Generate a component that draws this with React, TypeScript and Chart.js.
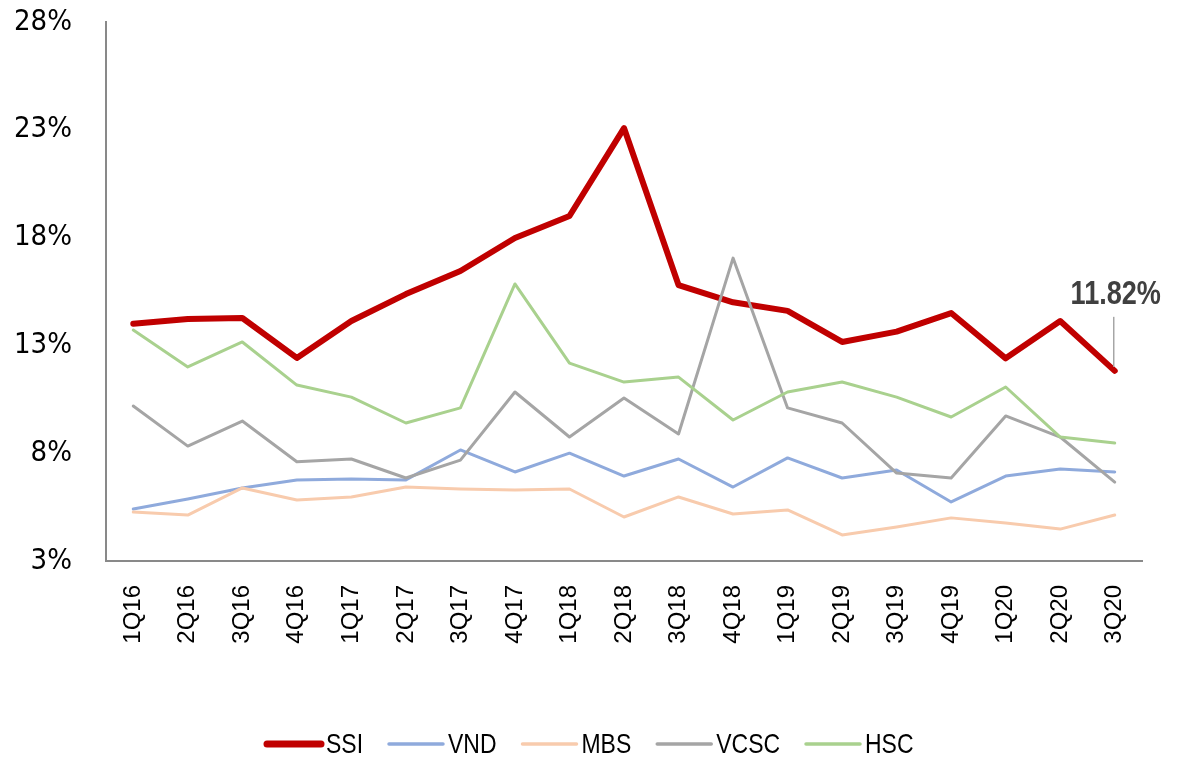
import React, { useEffect, useRef } from 'react';
import { Chart, registerables } from 'chart.js';

Chart.register(...registerables);

const categories = ['1Q16', '2Q16', '3Q16', '4Q16', '1Q17', '2Q17', '3Q17', '4Q17', '1Q18', '2Q18', '3Q18', '4Q18', '1Q19', '2Q19', '3Q19', '4Q19', '1Q20', '2Q20', '3Q20'];

const ssiValues = [14.0, 14.22, 14.27, 12.42, 14.13, 15.38, 16.45, 17.98, 19.0, 23.08, 15.8, 15.0, 14.6, 13.16, 13.64, 14.5, 12.4, 14.13, 11.82];
const vndValues = [5.41, 5.88, 6.39, 6.76, 6.8, 6.76, 8.15, 7.13, 8.0, 6.94, 7.73, 6.43, 7.78, 6.85, 7.22, 5.74, 6.94, 7.27, 7.13];
const mbsValues = [5.27, 5.13, 6.39, 5.83, 5.97, 6.43, 6.34, 6.29, 6.34, 5.04, 5.97, 5.18, 5.37, 4.21, 4.58, 5.0, 4.76, 4.48, 5.13];
const vcscValues = [10.19, 8.33, 9.49, 7.6, 7.73, 6.85, 7.68, 10.84, 8.75, 10.56, 8.89, 17.05, 10.1, 9.4, 7.08, 6.85, 9.73, 8.75, 6.66];
const hscValues = [13.71, 12.0, 13.16, 11.16, 10.6, 9.4, 10.1, 15.85, 12.18, 11.3, 11.53, 9.54, 10.84, 11.3, 10.6, 9.68, 11.07, 8.75, 8.47];

const yTickValues = [3, 8, 13, 18, 23, 28];
const calloutText = '11.82%';

const CONDENSED = "'DejaVu Sans Condensed', 'Liberation Sans Narrow', sans-serif";
const REGULAR = "'Liberation Sans', Arial, sans-serif";
const NARROW_SCALE = 0.82;

const series = [
  { label: 'SSI', data: ssiValues, color: '#C00000', width: 6, legendWidth: 7 },
  { label: 'VND', data: vndValues, color: '#8FAADC', width: 3, legendWidth: 3.5 },
  { label: 'MBS', data: mbsValues, color: '#F8CBAD', width: 3, legendWidth: 3.5 },
  { label: 'VCSC', data: vcscValues, color: '#A5A5A5', width: 3, legendWidth: 3.5 },
  { label: 'HSC', data: hscValues, color: '#A9D18E', width: 3, legendWidth: 3.5 },
];

function narrowText(ctx: any, text: string, x: number, y: number, align: 'left' | 'center') {
  const w = ctx.measureText(text).width * NARROW_SCALE;
  const left = align === 'center' ? x - w / 2 : x;
  ctx.save();
  ctx.translate(left, y);
  ctx.scale(NARROW_SCALE, 1);
  ctx.textAlign = 'left';
  ctx.fillText(text, 0, 0);
  ctx.restore();
  return w;
}

const calloutPlugin = {
  id: 'callout',
  afterDatasetsDraw(chart: any) {
    const xs = chart.scales.x;
    const ys = chart.scales.y;
    const last = ssiValues.length - 1;
    const px = xs.getPixelForValue(last);
    const py = ys.getPixelForValue(ssiValues[last]);
    const ctx = chart.ctx;
    ctx.save();
    ctx.strokeStyle = '#A6A6A6';
    ctx.lineWidth = 1.5;
    ctx.beginPath();
    ctx.moveTo(px - 1, py - 4);
    ctx.lineTo(px - 1, py - 54);
    ctx.stroke();
    ctx.fillStyle = '#404040';
    ctx.font = `bold 33px ${REGULAR}`;
    ctx.textBaseline = 'alphabetic';
    narrowText(ctx, calloutText, px + 1, py - 67, 'center');
    ctx.restore();
  },
};

const legendPlugin = {
  id: 'customLegend',
  afterDraw(chart: any) {
    const ctx = chart.ctx;
    ctx.save();
    ctx.font = `28px ${REGULAR}`;
    ctx.textBaseline = 'middle';
    const cy = 744;
    let x = 267;
    series.forEach((s) => {
      ctx.strokeStyle = s.color;
      ctx.lineWidth = s.legendWidth;
      ctx.lineCap = 'round';
      ctx.beginPath();
      ctx.moveTo(x, cy);
      ctx.lineTo(x + 54, cy);
      ctx.stroke();
      x += 59;
      ctx.fillStyle = '#000000';
      const w = narrowText(ctx, s.label, x, cy + 1, 'left');
      x += w + 26;
    });
    ctx.restore();
  },
};

export default function App() {
  const ref = useRef<HTMLCanvasElement | null>(null);

  useEffect(() => {
    if (!ref.current) return;
    const chart = new Chart(ref.current, {
      type: 'line',
      data: {
        labels: categories,
        datasets: series.map((s) => ({
          label: s.label,
          data: s.data,
          borderColor: s.color,
          backgroundColor: s.color,
          borderWidth: s.width,
          pointRadius: 0,
          pointHoverRadius: 0,
          tension: 0,
          fill: false,
          borderJoinStyle: 'round' as const,
          borderCapStyle: 'round' as const,
        })).reverse(),
      },
      options: {
        responsive: false,
        animation: false,
        events: [],
        layout: { padding: { top: 22, right: 53, left: 0, bottom: 0 } },
        plugins: {
          legend: { display: false },
          tooltip: { enabled: false },
        },
        scales: {
          x: {
            type: 'category',
            offset: true,
            grid: { display: false, drawTicks: false },
            border: { display: true, color: '#898989', width: 2 },
            ticks: {
              autoSkip: false,
              minRotation: 90,
              maxRotation: 90,
              padding: 24,
              color: '#000000',
              font: { family: REGULAR, size: 24 },
            },
            afterFit(scale: any) {
              scale.height = 196;
              scale.paddingLeft = 0;
              scale.paddingRight = 0;
            },
          },
          y: {
            type: 'linear',
            min: 3,
            max: 28,
            grid: { display: false, drawTicks: false },
            border: { display: true, color: '#898989', width: 2 },
            afterBuildTicks(scale: any) {
              scale.ticks = yTickValues.map((v) => ({ value: v }));
            },
            ticks: {
              padding: 34,
              color: '#000000',
              font: { family: CONDENSED, size: 29 },
              callback: (v: any) => `${v}%`,
            },
            afterFit(scale: any) {
              scale.width = 106;
              scale.paddingTop = 0;
              scale.paddingBottom = 0;
            },
          },
        },
      },
      plugins: [calloutPlugin, legendPlugin],
    });
    return () => chart.destroy();
  }, []);

  return (
    <div style={{ position: 'absolute', left: 0, top: 0, width: 1195, height: 757, background: '#ffffff' }}>
      <canvas ref={ref} width={1195} height={757} />
    </div>
  );
}
